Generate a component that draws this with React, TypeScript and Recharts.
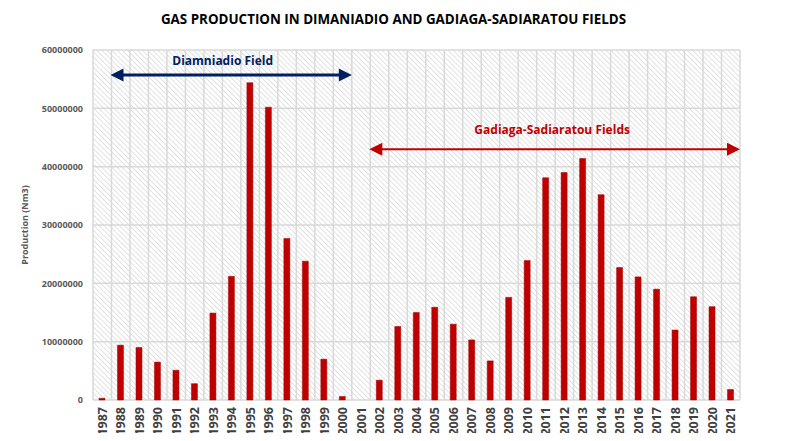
import React from 'react';
import { BarChart, Bar, XAxis, YAxis, CartesianGrid, ReferenceLine } from 'recharts';

const years = [
    '1987', '1988', '1989', '1990', '1991', '1992', '1993', '1994', '1995', '1996', '1997', '1998',
    '1999', '2000', '2001', '2002', '2003', '2004', '2005', '2006', '2007', '2008', '2009', '2010',
    '2011', '2012', '2013', '2014', '2015', '2016', '2017', '2018', '2019', '2020', '2021',
];

const production = [
    300000, 9400000, 9000000, 6500000, 5100000, 2800000, 14900000, 21200000, 54400000, 50200000, 27700000, 23800000,
    7000000, 600000, 0, 3400000, 12600000, 15000000, 15900000, 13000000, 10300000, 6700000, 17600000, 23900000,
    38100000, 39000000, 41400000, 35200000, 22700000, 21100000, 19000000, 12000000, 17700000, 16000000, 1800000,
];

const yTicks = [0, 10000000, 20000000, 30000000, 40000000, 50000000, 60000000];

// field arrows: first and last year covered, and the level they sit at
const fieldNames = ['Diamniadio Field', 'Gadiaga-Sadiaratou Fields'];
const fieldSpans = [['1988', '2000'], ['2002', '2021']];
const fieldLevels = [55700000, 43000000];

const fieldColors = ['#002060', '#C00000'];
const fieldLineWidths = [3, 2];
const fieldLabelShift = [[-9, 10], [-3, 15]];

const data = years.map((year, i) => ({ year, production: production[i] }));

const FONT = '"Open Sans", "DejaVu Sans", sans-serif';
const CHART_W = 787;
const CHART_H = 441;
const Y_W = 93;
const RIGHT = 47;
const HALF_BAND = (CHART_W - Y_W - RIGHT) / years.length / 2;

const YearTick = (props: any) => {
    const { x, y, payload } = props;
    return (
        <g transform={`translate(${x},${y})`}>
            <text
                transform="rotate(-90)"
                textAnchor="end"
                dy="0.36em"
                fontFamily={FONT}
                fontWeight={700}
                fontSize={12.5}
                fill="#404040"
            >
                {payload.value}
            </text>
        </g>
    );
};

// double headed arrow stretched out to the edges of the first and last year slot
const makeArrow = (color: string, width: number) => (props: any) => {
    const x1 = props.x1 - HALF_BAND - 1;
    const x2 = props.x2 + HALF_BAND;
    const y1 = props.y1;
    const y2 = props.y2;
    const head = 13;
    const half = 6.5;
    return (
        <g>
            <line x1={x1 + head - 1} y1={y1} x2={x2 - head + 1} y2={y2} stroke={color} strokeWidth={width} />
            <polygon points={`${x1},${y1} ${x1 + head},${y1 - half} ${x1 + head},${y1 + half}`} fill={color} />
            <polygon points={`${x2},${y2} ${x2 - head},${y2 - half} ${x2 - head},${y2 + half}`} fill={color} />
        </g>
    );
};

const makeFieldLabel = (text: string, color: string, shift: number[]) => (props: any) => {
    const vb = props.viewBox;
    return (
        <text
            x={vb.x + vb.width / 2 + shift[0]}
            y={vb.y - shift[1]}
            textAnchor="middle"
            fontFamily={FONT}
            fontWeight={700}
            fontSize={12}
            fill={color}
        >
            {text}
        </text>
    );
};

const App: React.FC = () => {
    return (
        <div style={{ position: 'relative', width: CHART_W, height: CHART_H, margin: -8, background: '#fff' }}>
            <svg width={0} height={0} style={{ position: 'absolute' }}>
                <defs>
                    <pattern id="hatch" width={3.6} height={3.6} patternUnits="userSpaceOnUse" patternTransform="rotate(-45)">
                        <rect width={3.6} height={3.6} fill="#ffffff" />
                        <line x1={0} y1={0} x2={0} y2={3.6} stroke="#d0d0d0" strokeWidth={1.2} />
                    </pattern>
                </defs>
            </svg>
            <div
                style={{
                    position: 'absolute',
                    left: 6,
                    top: 5,
                    width: 776,
                    height: 434,
                    border: '2px solid #d9d9d9',
                    boxSizing: 'border-box',
                }}
            />
            <div
                style={{
                    position: 'absolute',
                    left: 0,
                    top: 10,
                    width: CHART_W,
                    textAlign: 'center',
                    fontFamily: FONT,
                    fontWeight: 700,
                    fontSize: 13.4,
                    color: '#000',
                }}
            >
                GAS PRODUCTION IN DIMANIADIO AND GADIAGA-SADIARATOU FIELDS
            </div>
            <div style={{ position: 'absolute', left: 0, top: 0 }}>
                <BarChart width={CHART_W} height={CHART_H} data={data} margin={{ top: 50, right: RIGHT, bottom: 0, left: 0 }}>
                    <CartesianGrid
                        fill="url(#hatch)"
                        fillOpacity={1}
                        stroke="#d9d9d9"
                        strokeWidth={1.5}
                        verticalCoordinatesGenerator={({ offset }: any) =>
                            Array.from({ length: years.length + 1 }, (_, i) => offset.left + (i * offset.width) / years.length)
                        }
                    />
                    <XAxis
                        dataKey="year"
                        interval={0}
                        tickLine={false}
                        axisLine={false}
                        height={41}
                        tick={<YearTick />}
                        tickMargin={0}
                        tickSize={7}
                    />
                    <YAxis
                        width={Y_W}
                        domain={[0, 60000000]}
                        ticks={yTicks}
                        interval={0}
                        tickLine={false}
                        axisLine={false}
                        tickMargin={4}
                        tick={{ fontFamily: FONT, fontWeight: 700, fontSize: 9, fill: '#595959' }}
                        label={{
                            content: (p: any) => (
                                <text
                                    transform={`translate(28,${p.viewBox.y + p.viewBox.height / 2}) rotate(-90)`}
                                    textAnchor="middle"
                                    fontFamily={FONT}
                                    fontWeight={700}
                                    fontSize={9}
                                    fill="#595959"
                                >
                                    Production (Nm3)
                                </text>
                            ),
                        }}
                    />
                    <Bar
                        dataKey="production"
                        fill="#C00000"
                        stroke="#A00000"
                        strokeWidth={0.5}
                        barSize={6}
                        isAnimationActive={false}
                    />
                    {fieldNames.map((name, i) => (
                        <ReferenceLine
                            key={name}
                            segment={[
                                { x: fieldSpans[i][0], y: fieldLevels[i] },
                                { x: fieldSpans[i][1], y: fieldLevels[i] },
                            ]}
                            ifOverflow="visible"
                            shape={makeArrow(fieldColors[i], fieldLineWidths[i])}
                            label={{ content: makeFieldLabel(name, fieldColors[i], fieldLabelShift[i]) }}
                        />
                    ))}
                </BarChart>
            </div>
        </div>
    );
};

export default App;
